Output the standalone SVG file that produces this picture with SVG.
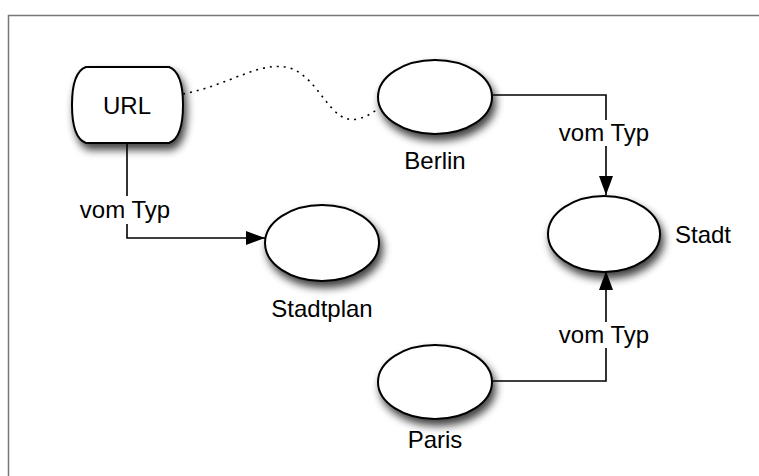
<svg xmlns="http://www.w3.org/2000/svg" width="759" height="476" viewBox="0 0 759 476">
<defs>
<style>
.node{fill:#fff;stroke:#000;stroke-width:2;filter:url(#sh)}
.lbl{font-family:"Liberation Sans",Arial,sans-serif;font-size:24px;fill:#000}
.edge{fill:none;stroke:#000;stroke-width:1.6}
.gap{fill:#fff}
</style>
<filter id="sh" x="-30%" y="-30%" width="170%" height="180%">
<feGaussianBlur in="SourceAlpha" stdDeviation="4"/>
<feOffset dx="3" dy="6" result="b"/>
<feComponentTransfer><feFuncA type="linear" slope="0.75"/></feComponentTransfer>
<feMerge><feMergeNode/><feMergeNode in="SourceGraphic"/></feMerge>
</filter>
<marker id="arr" viewBox="0 0 19 14" refX="19" refY="7" markerWidth="19" markerHeight="14" markerUnits="userSpaceOnUse" orient="auto">
<path d="M0,0 L19,7 L0,14 Z" fill="#000"/>
</marker>
</defs>
<rect x="0" y="0" width="759" height="476" fill="#fff"/>
<rect x="8.5" y="15.5" width="760" height="470" fill="none" stroke="#777" stroke-width="1.5"/>
<g id="connectors">
<path class="edge" d="M183,94 C230,85 260,60 290,68 C320,78 330,125 357,119 C368,117 372,112 379,109" stroke-dasharray="2,5" stroke-width="1"/>
<path class="edge" d="M127,143 V238 H265" marker-end="url(#arr)"/>
<path class="edge" d="M493,95 H606 V195" marker-end="url(#arr)"/>
<path class="edge" d="M493,381 H606 V271" marker-end="url(#arr)"/>
<rect class="gap" x="76" y="196" width="98" height="28"/>
<text class="lbl" x="125" y="218" text-anchor="middle">vom Typ</text>
<rect class="gap" x="555" y="120" width="98" height="26"/>
<text class="lbl" x="604" y="141" text-anchor="middle">vom Typ</text>
<rect class="gap" x="555" y="322" width="98" height="26"/>
<text class="lbl" x="604" y="343" text-anchor="middle">vom Typ</text>
</g>
<g id="url">
<path class="node" d="M86,67 H169 Q183,72 183,105 Q183,138 169,143 H86 Q72,138 72,105 Q72,72 86,67 Z"/>
<text class="lbl" x="127" y="114" text-anchor="middle">URL</text>
</g>
<g id="berlin">
<ellipse class="node" cx="435" cy="97" rx="57" ry="37"/>
<text class="lbl" x="435" y="169" text-anchor="middle">Berlin</text>
</g>
<g id="stadt">
<ellipse class="node" cx="604" cy="234" rx="56" ry="38"/>
<text class="lbl" x="675" y="243">Stadt</text>
</g>
<g id="stadtplan">
<ellipse class="node" cx="322" cy="243" rx="57" ry="38"/>
<text class="lbl" x="322" y="317" text-anchor="middle">Stadtplan</text>
</g>
<g id="paris">
<ellipse class="node" cx="435" cy="382" rx="57" ry="37"/>
<text class="lbl" x="435" y="448" text-anchor="middle">Paris</text>
</g>
</svg>
